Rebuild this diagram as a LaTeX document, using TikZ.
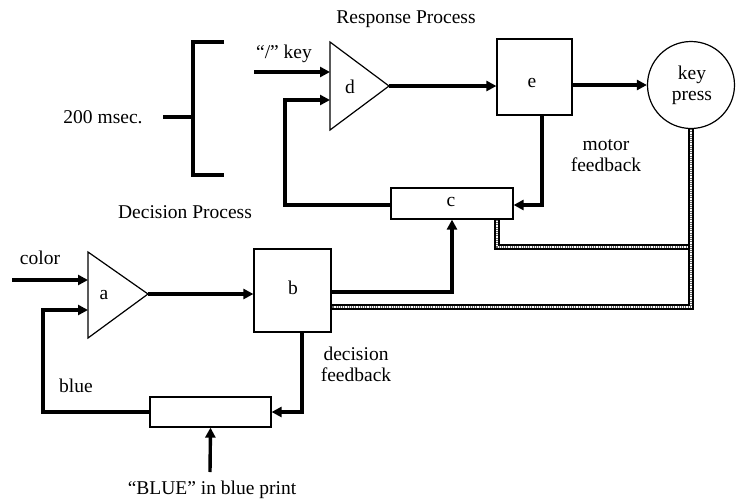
\documentclass[tikz,border=0pt]{standalone}
\usepackage{fontspec}
\setmainfont{Liberation Serif}
\usetikzlibrary{arrows.meta}
\begin{document}
\begin{tikzpicture}[x=1pt,y=-1pt,
  every node/.style={font=\fontsize{19.5}{21}\selectfont, inner sep=0pt},
  thk/.style={line width=3.4pt},
  arr/.style={line width=3.4pt,-{Triangle[length=10pt,width=10pt]}},
  blk/.style={draw,line width=1.2pt,rectangle,inner sep=0pt},
  tri/.style={line width=1.2pt,line join=miter},
  dbl/.style={line width=1.5pt,double=white,double distance=2.6pt,
     postaction={draw=black!60,line width=2pt,dash pattern=on 1pt off 1.2pt}},
  lbl/.style={align=center}]
\useasboundingbox (0,0) rectangle (736,501);
% boxes
\node[blk,minimum width=75pt,minimum height=76pt] (e) at (534.5,77) {};
\node (elab) at (532,83) {e};
\node[blk,minimum width=77pt,minimum height=83pt] (b) at (292.5,290.5) {};
\node (blab) at (293,288) {b};
\node[blk,minimum width=122pt,minimum height=31pt] (c) at (452,203.5) {};
\node (clab) at (451,202) {c};
\node[blk,minimum width=121pt,minimum height=30pt] (f) at (210.5,412) {};
\node[draw,circle,line width=1.2pt,minimum size=87pt] (kp) at (691,85) {};
\node[lbl] (kplab) at (692,85) {key\\press};
% triangles
\coordinate (dT) at (330,42);
\coordinate (dB) at (330,130);
\coordinate (dA) at (389,86);
\draw[tri] (dT) -- (dA) -- (dB) -- cycle;
\node (dlab) at (350,87) {d};
\coordinate (aT) at (88,252);
\coordinate (aB) at (88,338);
\coordinate (aA) at (148,294);
\draw[tri] (aT) -- (aA) -- (aB) -- cycle;
\node (alab) at (104,295) {a};
% input points
\coordinate (d1) at (330,72);
\coordinate (d2) at (330,100);
\coordinate (a1) at (88,280);
\coordinate (a2) at (88,310);
\coordinate (keyin) at (254,72);
\coordinate (colorin) at (12,280);
\coordinate (bluein) at (210,472);
% bracket
\coordinate (brT) at (224,42);
\coordinate (brB) at (224,175);
\coordinate (brM) at (163,117);
\draw[thk,line join=miter] (brT) -- (193,42) -- (193,175) -- (brB);
\draw[thk] (brM) -- (193,117);
% connectors
\draw[arr] (keyin) -- (d1);
\draw[arr] (c.west |- 0,205) -- (285,205) -- (285,100) -- (d2);
\draw[arr] (dA) -- (e.west |- dA);
\draw[arr] (e.east |- 0,85) -- (kp.west);
\draw[arr] (542,115) -- (542,205) -- (c.east |- 0,205);
\draw[arr] (b.east |- 0,292) -- (452,292) -- (c.south);
\draw[arr] (colorin) -- (a1);
\draw[arr] (aA) -- (b.west |- aA);
\draw[arr] (302,332) -- (302,412) -- (f.east);
\draw[arr] (f.west) -- (43,412) -- (43,310) -- (a2);
\draw[arr] (bluein) -- (f.south);
% double lines
\draw[dbl] (691,247) -- (497,247) -- (c.south -| 497,0);
\draw[dbl] (kp.south) -- (691,307) -- (b.east |- 0,307);
% labels
\node (t1) at (406,19) {Response Process};
\node (t2) at (185,212) {Decision Process};
\node (t3) at (284,54) {“/” key};
\node (t4) at (103,117) {200 msec.};
\node[lbl] (t5) at (606,156) {motor\\feedback};
\node[lbl] (t6) at (356,364) {decision\\feedback};
\node (t7) at (40,258) {color};
\node (t8) at (76,386) {blue};
\node (t9) at (212,490) {“BLUE” in blue print};
\end{tikzpicture}
\end{document}
